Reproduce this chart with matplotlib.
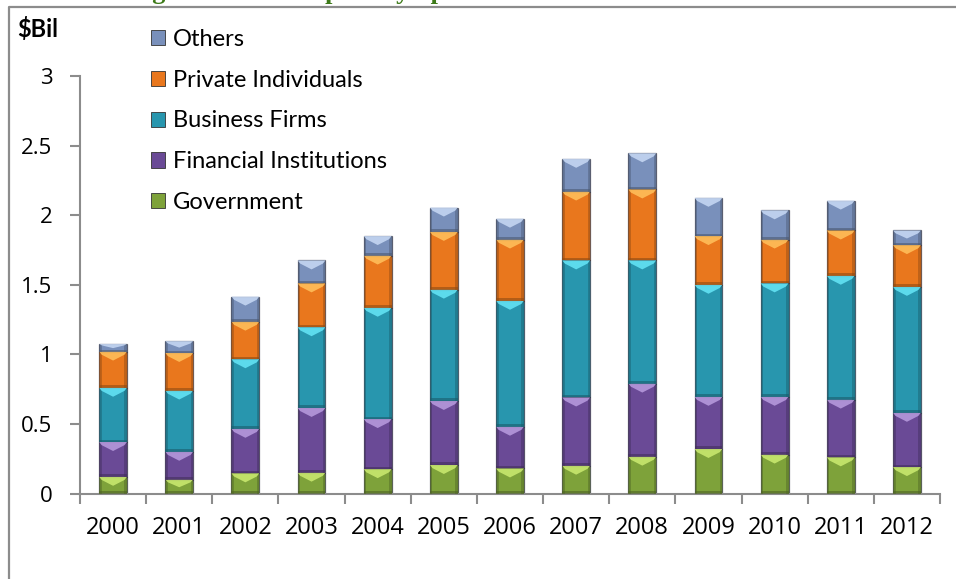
import numpy as np
import matplotlib
matplotlib.use('Agg')
import matplotlib.pyplot as plt
from matplotlib.patches import Polygon, Rectangle, Patch
from matplotlib.lines import Line2D
import matplotlib.colors as mcolors

# funding by sponsor, $ billions
years = ['2000', '2001', '2002', '2003', '2004', '2005', '2006',
         '2007', '2008', '2009', '2010', '2011', '2012']
government = [0.12, 0.10, 0.145, 0.15, 0.175, 0.205, 0.18, 0.20, 0.265, 0.32, 0.28, 0.26, 0.19]
financial = [0.25, 0.20, 0.32, 0.465, 0.36, 0.46, 0.30, 0.49, 0.525, 0.375, 0.415, 0.415, 0.39]
business = [0.39, 0.44, 0.50, 0.58, 0.80, 0.80, 0.905, 0.985, 0.885, 0.805, 0.815, 0.89, 0.905]
private = [0.26, 0.27, 0.27, 0.315, 0.375, 0.415, 0.44, 0.495, 0.51, 0.35, 0.315, 0.325, 0.30]
others = [0.055, 0.085, 0.18, 0.165, 0.14, 0.175, 0.15, 0.235, 0.26, 0.275, 0.21, 0.215, 0.105]

series = [('Government', government, '#7ea23a', '#c8e86e'),
          ('Financial Institutions', financial, '#6a4a96', '#b598dc'),
          ('Business Firms', business, '#2896ae', '#62e2f4'),
          ('Private Individuals', private, '#e9771d', '#ffbe5a'),
          ('Others', others, '#7990bb', '#c4d6f2')]

plt.rcParams['font.family'] = ['Lato', 'DejaVu Sans']
fs = 17

fig = plt.figure(figsize=(9.56, 5.79), dpi=100)
ax = fig.add_axes([80/956, 1-493.5/579, 860/956, (493.5-76)/579])

x = np.arange(len(years))
bottom = np.zeros(len(years))
px_per_unit = (493.5 - 76) / 3.0
for name, vals, col, light in series:
    bars = ax.bar(x, vals, width=0.42, bottom=bottom, color=col,
                  edgecolor=mcolors.to_rgba('#1a1a2a', 0.6), linewidth=0.9, zorder=2)
    dark = tuple(np.array(mcolors.to_rgb(col)) * 0.62)
    for b in bars:
        x0, y0 = b.get_x(), b.get_y()
        w, h = b.get_width(), b.get_height()
        x1, top = x0 + w, y0 + h
        # bevel: darker sides and base, light chevron at the top
        sw = w * 0.09
        ax.add_patch(Rectangle((x0, y0), sw, h, color=dark, alpha=0.45, lw=0, zorder=3))
        ax.add_patch(Rectangle((x1 - sw, y0), sw, h, color=dark, alpha=0.45, lw=0, zorder=3))
        bh = min(2.5 / px_per_unit, h * 0.2)
        ax.add_patch(Rectangle((x0, y0), w, bh, color=dark, alpha=0.6, lw=0, zorder=3))
        th = min(9 / px_per_unit, h * 0.55)
        ax.add_patch(Polygon([(x0, top), (x1, top), (x1 - sw, top - th * 0.35),
                              (x0 + w / 2, top - th), (x0 + sw, top - th * 0.35)],
                             closed=True, color=light, alpha=0.9, lw=0, zorder=3))
    bottom += np.array(vals)

ax.set_xlim(-0.5, len(years) - 0.5)
ax.set_ylim(0, 3)
ax.set_yticks([0, 0.5, 1, 1.5, 2, 2.5, 3])
ax.set_yticklabels(['0', '0.5', '1', '1.5', '2', '2.5', '3'], family='Open Sans', fontsize=16)
ax.set_xticks(x)
ax.set_xticklabels(years, family='Open Sans', fontsize=17)
ax.set_xticks(np.arange(len(years) + 1) - 0.5, minor=True)
ax.tick_params(axis='x', which='major', length=0, pad=16)
ax.tick_params(axis='x', which='minor', length=7, width=1.5, color='#8c8c8c', direction='out')
ax.tick_params(axis='y', length=7, width=1.5, color='#8c8c8c', pad=13)
for side in ['top', 'right']:
    ax.spines[side].set_visible(False)
for side in ['left', 'bottom']:
    ax.spines[side].set_color('#8c8c8c')
    ax.spines[side].set_linewidth(1.5)

fig.text(17/956, 1-29/579, '$Bil', fontsize=fs, fontweight='bold', va='center', ha='left')

handles = [Patch(facecolor=c, edgecolor='#333333', linewidth=0.6, label=n)
           for n, v, c, l in series[::-1]]
fig.legend(handles=handles, loc='upper left', bbox_to_anchor=(139/956, 1-17/579),
           frameon=False, fontsize=fs, handlelength=0.62, handleheight=0.62,
           handletextpad=0.32, labelspacing=0.84, borderpad=0)

# chart frame
fig.add_artist(Line2D([9/956, 9/956, 1.0], [0, 1-6.5/579, 1-6.5/579],
                      transform=fig.transFigure, color='#8c8c8c', lw=1.6))
fig.text(70/956, 1+1.5/579, 'Funding of Research Spent by Sponsor', fontsize=19,
         fontweight='bold', color='#3d7a19', family='Liberation Serif',
         ha='left', va='baseline')

fig.savefig('out.png', dpi=100)
